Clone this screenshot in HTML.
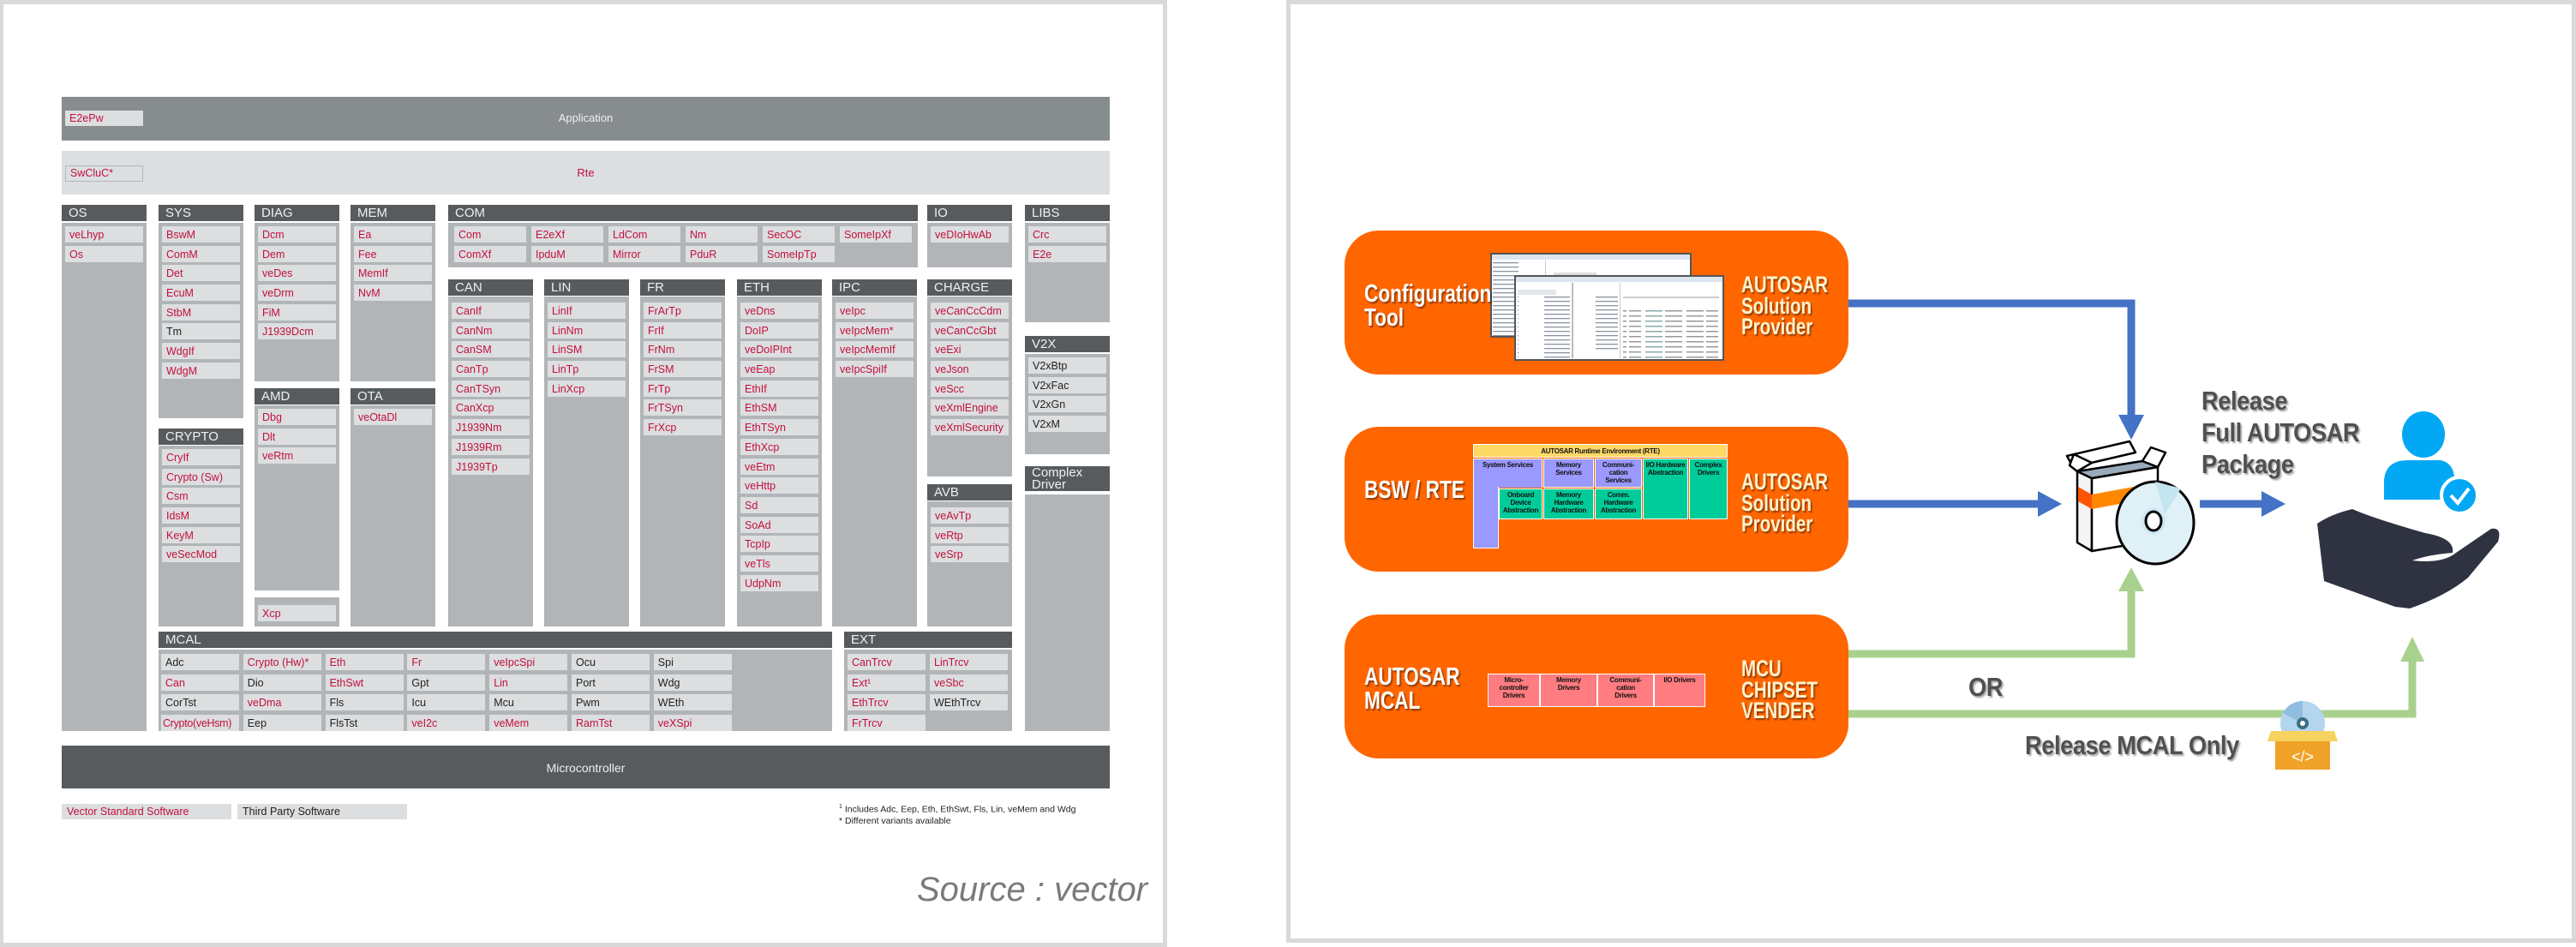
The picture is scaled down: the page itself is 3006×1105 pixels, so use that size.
<!DOCTYPE html>
<html><head><meta charset="utf-8">
<style>
*{margin:0;padding:0}
body{width:3006px;height:1105px;position:relative;background:#fff;overflow:hidden;font-family:"Liberation Sans",sans-serif}
.a{position:absolute}
.h{position:absolute;background:#575b5e;color:#eef0f0;font-size:15px;height:19px;line-height:20px;padding-left:8px;width:99px;box-sizing:border-box}
.b{position:absolute;background:#b1b5b8;padding:4px;box-sizing:border-box;width:99px}
.i{height:19px;margin-bottom:3.7px;background:#dcdee0;color:#c4103d;font-size:12.5px;line-height:20px;padding-left:5px;width:91px;box-sizing:border-box;white-space:nowrap;overflow:hidden}
.k{color:#222}
.g{position:absolute;display:grid;gap:4px}
.g .i{margin:0}
.ob{position:absolute;left:1569px;width:588px;background:#ff6600;border-radius:40px}
.wt{position:absolute;z-index:5;color:#fff;font-family:"Liberation Sans",sans-serif;font-weight:bold;font-size:29px;line-height:28px;text-shadow:2px 2px 2px rgba(0,0,0,.45);transform:scaleX(0.78);transform-origin:0 0;white-space:nowrap}
.ct{position:absolute;z-index:5;color:#fff2cc;font-family:"Liberation Sans",sans-serif;font-weight:bold;font-size:27px;line-height:24.5px;text-shadow:2px 2px 2px rgba(0,0,0,.45);transform:scaleX(0.76);transform-origin:0 0;white-space:nowrap}
.dt{position:absolute;z-index:5;color:#505050;font-family:"Liberation Sans",sans-serif;font-weight:bold;font-size:31px;line-height:37px;text-shadow:2px 2px 2px rgba(0,0,0,.35);letter-spacing:-0.5px;transform:scaleX(0.88);transform-origin:0 0;white-space:nowrap}
.r{position:absolute;box-sizing:border-box;font-family:"Liberation Sans",sans-serif;font-weight:bold;font-size:8px;line-height:9px;text-align:center;color:#111;padding-top:2px;letter-spacing:-0.3px}
</style></head><body>

<div class="a" style="left:0;top:0;width:1362px;height:1105px;box-sizing:border-box;border:5px solid #d9d9d9;border-left-width:4px;"></div>

<div class="a" style="left:72px;top:113px;width:1223px;height:51px;background:#878c8f;"></div>
<div class="a" style="left:76px;top:129px;width:91px;height:18px;background:#dcdee0;color:#c4103d;font-size:12.5px;line-height:19px;padding-left:5px;box-sizing:border-box">E2ePw</div>
<div class="a" style="left:72px;top:130px;width:1223px;text-align:center;color:#eef0f0;font-size:13px">Application</div>
<div class="a" style="left:72px;top:176px;width:1223px;height:51px;background:#dcdfe2;"></div>
<div class="a" style="left:76px;top:193px;width:91px;height:19px;border:1.5px solid #b1b5b8;color:#c4103d;font-size:12.5px;line-height:17px;padding-left:5px;box-sizing:border-box">SwCluC*</div>
<div class="a" style="left:72px;top:194px;width:1223px;text-align:center;color:#c4103d;font-size:13px">Rte</div>

<div class="h" style="left:72px;top:239px">OS</div>
<div class="b" style="left:72px;top:260px;height:593px"><div class="i">veLhyp</div><div class="i">Os</div></div>
<div class="h" style="left:185px;top:239px">SYS</div>
<div class="b" style="left:185px;top:260px;height:228px"><div class="i">BswM</div><div class="i">ComM</div><div class="i">Det</div><div class="i">EcuM</div><div class="i">StbM</div><div class="i k">Tm</div><div class="i">WdgIf</div><div class="i">WdgM</div></div>
<div class="h" style="left:185px;top:500px">CRYPTO</div>
<div class="b" style="left:185px;top:520px;height:211px"><div class="i">CryIf</div><div class="i">Crypto (Sw)</div><div class="i">Csm</div><div class="i">IdsM</div><div class="i">KeyM</div><div class="i">veSecMod</div></div>
<div class="h" style="left:297px;top:239px">DIAG</div>
<div class="b" style="left:297px;top:260px;height:185px"><div class="i">Dcm</div><div class="i">Dem</div><div class="i">veDes</div><div class="i">veDrm</div><div class="i">FiM</div><div class="i">J1939Dcm</div></div>
<div class="h" style="left:297px;top:453px">AMD</div>
<div class="b" style="left:297px;top:473px;height:216px"><div class="i">Dbg</div><div class="i">Dlt</div><div class="i">veRtm</div></div>
<div class="b" style="left:297px;top:697px;height:34px;padding-top:9px"><div class="i">Xcp</div></div>
<div class="h" style="left:409px;top:239px">MEM</div>
<div class="b" style="left:409px;top:260px;height:185px"><div class="i">Ea</div><div class="i">Fee</div><div class="i">MemIf</div><div class="i">NvM</div></div>
<div class="h" style="left:409px;top:453px">OTA</div>
<div class="b" style="left:409px;top:473px;height:258px"><div class="i">veOtaDl</div></div>
<div class="h" style="left:523px;top:239px;width:548px">COM</div>
<div class="b" style="left:523px;top:260px;height:52px;width:548px"></div>
<div class="g" style="left:530px;top:264px;grid-template-columns:repeat(6,84px);gap:4px 6px">
<div class="i" style="width:84px">Com</div><div class="i" style="width:84px">E2eXf</div><div class="i" style="width:84px">LdCom</div><div class="i" style="width:84px">Nm</div><div class="i" style="width:84px">SecOC</div><div class="i" style="width:84px">SomeIpXf</div>
<div class="i" style="width:84px">ComXf</div><div class="i" style="width:84px">IpduM</div><div class="i" style="width:84px">Mirror</div><div class="i" style="width:84px">PduR</div><div class="i" style="width:84px">SomeIpTp</div></div>
<div class="h" style="left:1082px;top:239px">IO</div>
<div class="b" style="left:1082px;top:260px;height:52px"><div class="i">veDIoHwAb</div></div>
<div class="h" style="left:1196px;top:239px">LIBS</div>
<div class="b" style="left:1196px;top:260px;height:116px"><div class="i">Crc</div><div class="i">E2e</div></div>
<div class="h" style="left:1196px;top:392px">V2X</div>
<div class="b" style="left:1196px;top:413px;height:117px"><div class="i k">V2xBtp</div><div class="i k">V2xFac</div><div class="i k">V2xGn</div><div class="i k">V2xM</div></div>
<div class="h" style="left:1196px;top:544px;height:29px;line-height:14px;padding-top:1px">Complex<br>Driver</div>
<div class="b" style="left:1196px;top:577px;height:276px"></div>
<div class="h" style="left:523px;top:326px">CAN</div>
<div class="b" style="left:523px;top:346px;height:385px;padding-top:7px"><div class="i">CanIf</div><div class="i">CanNm</div><div class="i">CanSM</div><div class="i">CanTp</div><div class="i">CanTSyn</div><div class="i">CanXcp</div><div class="i">J1939Nm</div><div class="i">J1939Rm</div><div class="i">J1939Tp</div></div>
<div class="h" style="left:635px;top:326px">LIN</div>
<div class="b" style="left:635px;top:346px;height:385px;padding-top:7px"><div class="i">LinIf</div><div class="i">LinNm</div><div class="i">LinSM</div><div class="i">LinTp</div><div class="i">LinXcp</div></div>
<div class="h" style="left:747px;top:326px">FR</div>
<div class="b" style="left:747px;top:346px;height:385px;padding-top:7px"><div class="i">FrArTp</div><div class="i">FrIf</div><div class="i">FrNm</div><div class="i">FrSM</div><div class="i">FrTp</div><div class="i">FrTSyn</div><div class="i">FrXcp</div></div>
<div class="h" style="left:860px;top:326px">ETH</div>
<div class="b" style="left:860px;top:346px;height:385px;padding-top:7px"><div class="i">veDns</div><div class="i">DoIP</div><div class="i">veDoIPInt</div><div class="i">veEap</div><div class="i">EthIf</div><div class="i">EthSM</div><div class="i">EthTSyn</div><div class="i">EthXcp</div><div class="i">veEtm</div><div class="i">veHttp</div><div class="i">Sd</div><div class="i">SoAd</div><div class="i">TcpIp</div><div class="i">veTls</div><div class="i">UdpNm</div></div>
<div class="h" style="left:971px;top:326px">IPC</div>
<div class="b" style="left:971px;top:346px;height:385px;padding-top:7px"><div class="i">veIpc</div><div class="i">veIpcMem*</div><div class="i">veIpcMemIf</div><div class="i">veIpcSpiIf</div></div>
<div class="h" style="left:1082px;top:326px">CHARGE</div>
<div class="b" style="left:1082px;top:346px;height:210px;padding-top:7px"><div class="i">veCanCcCdm</div><div class="i">veCanCcGbt</div><div class="i">veExi</div><div class="i">veJson</div><div class="i">veScc</div><div class="i">veXmlEngine</div><div class="i">veXmlSecurity</div></div>
<div class="h" style="left:1082px;top:565px">AVB</div>
<div class="b" style="left:1082px;top:585px;height:146px;padding-top:7px"><div class="i">veAvTp</div><div class="i">veRtp</div><div class="i">veSrp</div></div>

<div class="h" style="left:185px;top:737px;width:786px">MCAL</div>
<div class="b" style="left:185px;top:758px;height:95px;width:786px"></div>
<div class="g" style="left:188px;top:763px;grid-template-columns:repeat(7,91px);gap:4.5px 4.8px">
<div class="i k">Adc</div><div class="i">Crypto (Hw)*</div><div class="i">Eth</div><div class="i">Fr</div><div class="i">veIpcSpi</div><div class="i k">Ocu</div><div class="i k">Spi</div>
<div class="i">Can</div><div class="i k">Dio</div><div class="i">EthSwt</div><div class="i k">Gpt</div><div class="i">Lin</div><div class="i k">Port</div><div class="i k">Wdg</div>
<div class="i k">CorTst</div><div class="i">veDma</div><div class="i k">Fls</div><div class="i k">Icu</div><div class="i k">Mcu</div><div class="i k">Pwm</div><div class="i k">WEth</div>
<div class="i" style="padding-left:2px;letter-spacing:-0.3px">Crypto(veHsm)</div><div class="i k">Eep</div><div class="i k">FlsTst</div><div class="i">veI2c</div><div class="i">veMem</div><div class="i">RamTst</div><div class="i">veXSpi</div></div>
<div class="h" style="left:985px;top:737px;width:196px">EXT</div>
<div class="b" style="left:985px;top:758px;height:95px;width:196px"></div>
<div class="g" style="left:989px;top:763px;grid-template-columns:repeat(2,91px);gap:4.5px 5px">
<div class="i">CanTrcv</div><div class="i">LinTrcv</div><div class="i">Ext¹</div><div class="i">veSbc</div><div class="i">EthTrcv</div><div class="i k">WEthTrcv</div><div class="i">FrTrcv</div></div>

<div class="a" style="left:72px;top:870px;width:1223px;height:50px;background:#575b5e;color:#eef0f0;font-size:14px;line-height:52px;text-align:center">Microcontroller</div>
<div class="a" style="left:72px;top:938px;width:198px;height:18px;background:#dcdee0;color:#c4103d;font-size:12.5px;line-height:19px;padding-left:6px;box-sizing:border-box">Vector Standard Software</div>
<div class="a" style="left:277px;top:938px;width:198px;height:18px;background:#dcdee0;color:#222;font-size:12.5px;line-height:19px;padding-left:6px;box-sizing:border-box">Third Party Software</div>
<div class="a" style="left:979px;top:935px;font-size:10.5px;line-height:13px;color:#222"><sup style="font-size:7px">1</sup> Includes Adc, Eep, Eth, EthSwt, Fls, Lin, veMem and Wdg<br>* Different variants available</div>
<div class="a" style="left:1070px;top:1016px;font-size:40px;font-style:italic;color:#7a7a7a">Source : vector</div>

<div class="a" style="left:1501px;top:0;width:1505px;height:1100px;box-sizing:border-box;border:5px solid #d9d9d9;"></div>

<div class="ob" style="top:269px;height:168px"></div>
<div class="ob" style="top:498px;height:169px"></div>
<div class="ob" style="top:717px;height:168px"></div>

<div class="wt" style="left:1592px;top:329px">Configuration<br>Tool</div>
<div class="ct" style="left:2032px;top:320px">AUTOSAR<br>Solution<br>Provider</div>
<div class="wt" style="left:1592px;top:558px">BSW / RTE</div>
<div class="ct" style="left:2032px;top:550px">AUTOSAR<br>Solution<br>Provider</div>
<div class="wt" style="left:1592px;top:776px">AUTOSAR<br>MCAL</div>
<div class="ct" style="left:2032px;top:768px">MCU<br>CHIPSET<br>VENDER</div>

<svg class="a" style="left:1738px;top:294px" width="275" height="130">
 <defs><pattern id="ln" width="60" height="5" patternUnits="userSpaceOnUse"><rect x="4" y="2" width="30" height="1.3" fill="#8a93a3"/></pattern>
 <pattern id="tb" width="90" height="6" patternUnits="userSpaceOnUse"><rect x="2" y="2" width="20" height="1.5" fill="#8aa"/><rect x="25" y="2" width="20" height="1.5" fill="#999"/><rect x="50" y="2" width="20" height="1.5" fill="#999"/><rect x="73" y="2" width="14" height="1.5" fill="#999"/></pattern></defs>
 <rect x="2" y="2" width="233" height="97" fill="#fff" stroke="#555" stroke-width="2"/>
 <rect x="3" y="3" width="231" height="6" fill="#dde6f0"/>
 <rect x="4" y="10" width="60" height="88" fill="url(#ln)"/>
 <rect x="65" y="10" width="1" height="88" fill="#ccc"/>
 <rect x="75" y="24" width="50" height="4" fill="#ddd"/>
 <rect x="30" y="28" width="243" height="98" fill="#fff" stroke="#555" stroke-width="2"/>
 <rect x="31" y="29" width="241" height="6" fill="#dde6f0"/>
 <rect x="33" y="44" width="45" height="6" fill="#e3e7ec"/>
 <rect x="33" y="52" width="62" height="72" fill="url(#ln)"/>
 <rect x="96" y="36" width="2" height="88" fill="#bbb"/>
 <rect x="100" y="52" width="50" height="65" fill="url(#ln)"/>
 <rect x="152" y="36" width="1" height="88" fill="#ccc"/>
 <rect x="156" y="52" width="112" height="2" fill="#ccc"/>
 <rect x="156" y="66" width="112" height="58" fill="url(#tb)"/>
</svg>

<div class="r" style="left:1719px;top:518px;width:297px;height:16px;background:#ffd966;border:1px solid #fff;padding-top:3px">AUTOSAR Runtime Environment (RTE)</div>
<div class="r" style="left:1719px;top:535px;width:81px;height:34px;background:#9999ff;border:1px solid #fff;border-bottom:none">System Services</div>
<div class="a" style="left:1719px;top:568px;width:30px;height:72px;background:#9999ff;border:1px solid #fff;border-top:none;box-sizing:border-box"></div>
<div class="r" style="left:1801px;top:535px;width:59px;height:34px;background:#9999ff;border:1px solid #fff">Memory<br>Services</div>
<div class="r" style="left:1861px;top:535px;width:55px;height:34px;background:#9999ff;border:1px solid #fff">Communi-<br>cation<br>Services</div>
<div class="r" style="left:1917px;top:535px;width:53px;height:71px;background:#00cc99;border:1px solid #fff">I/O Hardware<br>Abstraction</div>
<div class="r" style="left:1971px;top:535px;width:45px;height:71px;background:#00cc99;border:1px solid #fff">Complex<br>Drivers</div>
<div class="r" style="left:1749px;top:570px;width:51px;height:36px;background:#00cc99;border:1px solid #fff">Onboard<br>Device<br>Abstraction</div>
<div class="r" style="left:1801px;top:570px;width:59px;height:36px;background:#00cc99;border:1px solid #fff">Memory<br>Hardware<br>Abstraction</div>
<div class="r" style="left:1861px;top:570px;width:55px;height:36px;background:#00cc99;border:1px solid #fff">Comm.<br>Hardware<br>Abstraction</div>

<div class="r" style="left:1736px;top:786px;width:61px;height:39px;background:#ff7c80;border:1.5px solid #fff">Micro-<br>controller<br>Drivers</div>
<div class="r" style="left:1797px;top:786px;width:67px;height:39px;background:#ff7c80;border:1.5px solid #fff">Memory<br>Drivers</div>
<div class="r" style="left:1864px;top:786px;width:66px;height:39px;background:#ff7c80;border:1.5px solid #fff">Communi-<br>cation<br>Drivers</div>
<div class="r" style="left:1930px;top:786px;width:60px;height:39px;background:#ff7c80;border:1.5px solid #fff">I/O Drivers</div>

<svg class="a" style="left:0;top:0" width="3006" height="1105">
 <path d="M2157 354 H2487 V486" fill="none" stroke="#4472c4" stroke-width="9"/>
 <polygon points="2472,484 2502,484 2487,513" fill="#4472c4"/>
 <path d="M2157 588 H2380" fill="none" stroke="#4472c4" stroke-width="9"/>
 <polygon points="2378,573 2406,588 2378,603" fill="#4472c4"/>
 <path d="M2567 588 H2641" fill="none" stroke="#4472c4" stroke-width="9"/>
 <polygon points="2639,573 2667,588 2639,603" fill="#4472c4"/>
 <path d="M2157 763 H2487 V688" fill="none" stroke="#a9d18e" stroke-width="9"/>
 <polygon points="2472,690 2502,690 2487,662" fill="#a9d18e"/>
 <path d="M2157 833 H2815 V770" fill="none" stroke="#a9d18e" stroke-width="9"/>
 <polygon points="2801,772 2829,772 2815,743" fill="#a9d18e"/>

 <g stroke="#000" stroke-width="2.5" stroke-linejoin="round">
  <polygon points="2424,550 2441,558 2441,643 2424,633" fill="#f4f4f4"/>
  <polygon points="2441,558 2518,545 2518,630 2441,643" fill="#fff"/>
  <polygon points="2424,550 2441,558 2518,545 2500,538" fill="#9ab" />
  <polygon points="2412,532 2485,515 2492,528 2419,545" fill="#fff"/>
  <polygon points="2500,538 2518,545 2527,528 2510,522" fill="#fff"/>
  <polygon points="2424,550 2415,543 2420,530 2441,540" fill="#fff"/>
 </g>
 <polygon points="2425,568 2441,577 2441,594 2425,585" fill="#ff5500"/>
 <polygon points="2441,577 2517,563 2517,580 2441,594" fill="#ff8800"/>
 <ellipse cx="2515" cy="610" rx="45" ry="48" fill="#dff0f7" stroke="#000" stroke-width="3"/>
 <path d="M2515 562 L2526 600 L2545 570 Z" fill="#c4e4f0"/>
 <ellipse cx="2513" cy="608" rx="14" ry="16" fill="#cde9f4"/>
 <ellipse cx="2513" cy="608" rx="9" ry="11" fill="#fff" stroke="#000" stroke-width="3"/>

 <ellipse cx="2828" cy="507" rx="25" ry="27" fill="#02a8f4"/>
 <path d="M2782 583 V560 Q2784 537 2810 537 H2848 Q2862 540 2864 556 L2864 583 Z" fill="#02a8f4"/>
 <circle cx="2870" cy="578" r="21" fill="#02a8f4" stroke="#fff" stroke-width="4"/>
 <path d="M2860 578 L2868 587 L2881 570" fill="none" stroke="#fff" stroke-width="4"/>
 <path d="M2704 611 Q2720 600 2745 594 Q2770 605 2830 622 Q2865 628 2862 645 Q2835 647 2815 654 Q2850 658 2866 645 L2907 617 Q2920 615 2915 632 L2880 674 Q2855 695 2812 710 L2795 708 L2712 678 Z" fill="#2e3241"/>

 <circle cx="2687" cy="844" r="26" fill="#b3d5ee"/>
 <path d="M2687 818 A26 26 0 0 0 2664 832 L2687 844 Z" fill="#8fbde0"/>
 <circle cx="2687" cy="844" r="5" fill="#fff" stroke="#3b6f80" stroke-width="4"/>
 <polygon points="2650,853 2724,853 2728,865 2646,865" fill="#f5d35e"/>
 <rect x="2655" y="865" width="64" height="33" fill="#f0a229"/>
 <text x="2687" y="889" text-anchor="middle" fill="#fff" font-family="Liberation Sans" font-size="18">&lt;/&gt;</text>
</svg>

<div class="dt" style="left:2569px;top:449px">Release<br>Full AUTOSAR<br>Package</div>
<div class="dt" style="left:2297px;top:783px">OR</div>
<div class="dt" style="left:2363px;top:851px">Release MCAL Only</div>
</body></html>
